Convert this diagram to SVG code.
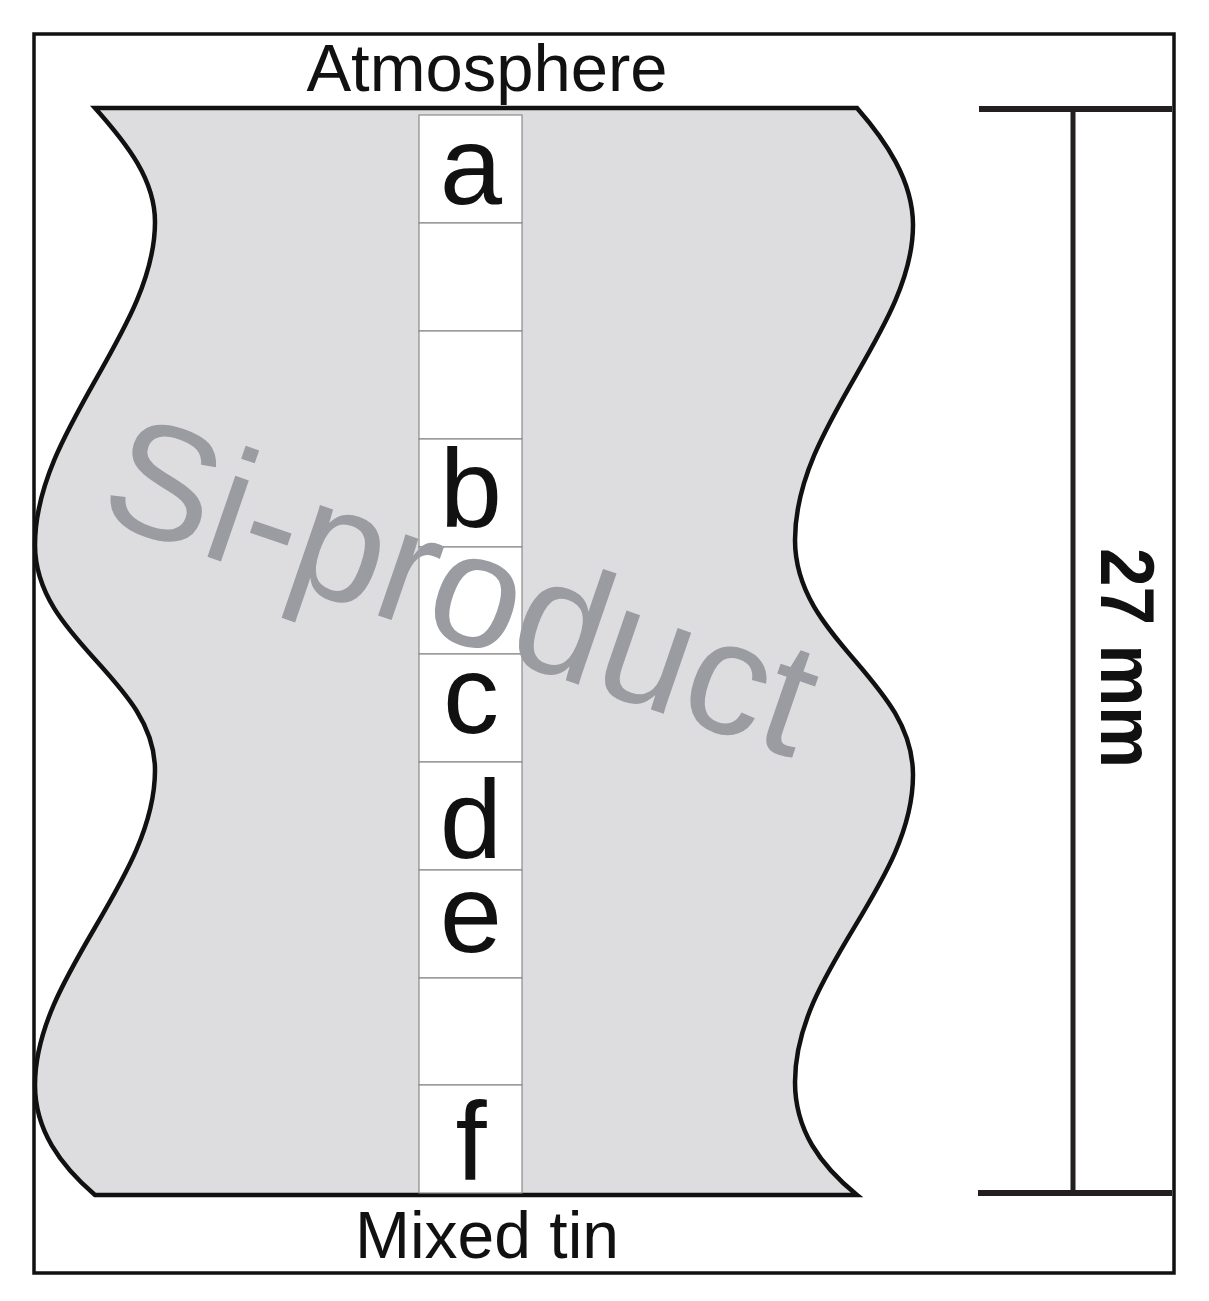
<svg xmlns="http://www.w3.org/2000/svg" width="1209" height="1301" viewBox="0 0 1209 1301">
<style>
.lbl{font-family:"Liberation Sans",Arial,sans-serif;fill:#111}
.cell{fill:#ffffff;stroke:#8a8a8a;stroke-width:1.2}
.big{font-size:112px;text-anchor:middle}
.dim{stroke:#231f20;fill:none}
</style>
<rect x="0" y="0" width="1209" height="1301" fill="#ffffff"/>
<g id="frame"><rect x="34" y="34" width="1140" height="1239" fill="none" stroke="#111" stroke-width="3.5"/></g>
<g id="sample">
<path d="M95,108 L857,108 C885,140 913,180 913,225 C913,330 795,425 795,540 C795,640 913,680 913,775 C913,885 795,970 795,1082 C795,1130 820,1165 857,1195 L95,1195 C60,1165 35,1130 35,1085 C35,975 155,880 155,770 C155,680 35,640 35,545 C35,430 155,330 155,222 C155,180 128,145 95,108 Z" fill="#dddde0" stroke="#111" stroke-width="4.5" stroke-linejoin="miter"/>
</g>
<g id="column">
<rect class="cell" x="419" y="115" width="103" height="108"/>
<rect class="cell" x="419" y="223" width="103" height="108"/>
<rect class="cell" x="419" y="331" width="103" height="108"/>
<rect class="cell" x="419" y="439" width="103" height="108"/>
<rect class="cell" x="419" y="547" width="103" height="107"/>
<rect class="cell" x="419" y="654" width="103" height="108"/>
<rect class="cell" x="419" y="762" width="103" height="108"/>
<rect class="cell" x="419" y="870" width="103" height="108"/>
<rect class="cell" x="419" y="978" width="103" height="107"/>
<rect class="cell" x="419" y="1085" width="103" height="108"/>
</g>
<g id="watermark">
<text x="0" y="0" transform="translate(95,518) rotate(19)" font-family="Liberation Sans, Arial, sans-serif" font-size="162" fill="#9a9ca1">Si-product</text>
</g>
<g id="labels">
<text class="lbl big" x="471" y="204">a</text>
<text class="lbl big" x="471" y="527">b</text>
<text class="lbl big" x="471" y="733">c</text>
<text class="lbl big" x="471" y="858">d</text>
<text class="lbl big" x="471" y="952">e</text>
<text class="lbl big" x="471" y="1180">f</text>
<text class="lbl" x="487" y="91" font-size="67" text-anchor="middle">Atmosphere</text>
<text class="lbl" x="487" y="1258" font-size="66" text-anchor="middle">Mixed tin</text>
</g>
<g id="dimension">
<line class="dim" x1="979" y1="109" x2="1172" y2="109" stroke-width="6"/>
<line class="dim" x1="978" y1="1193" x2="1172" y2="1193" stroke-width="6"/>
<line class="dim" x1="1073" y1="109" x2="1073" y2="1193" stroke-width="5"/>
<text class="lbl" x="0" y="0" transform="translate(1101,658) rotate(90)" font-size="76" font-weight="bold" text-anchor="middle" textLength="220" lengthAdjust="spacingAndGlyphs">27 mm</text>
</g>
</svg>
